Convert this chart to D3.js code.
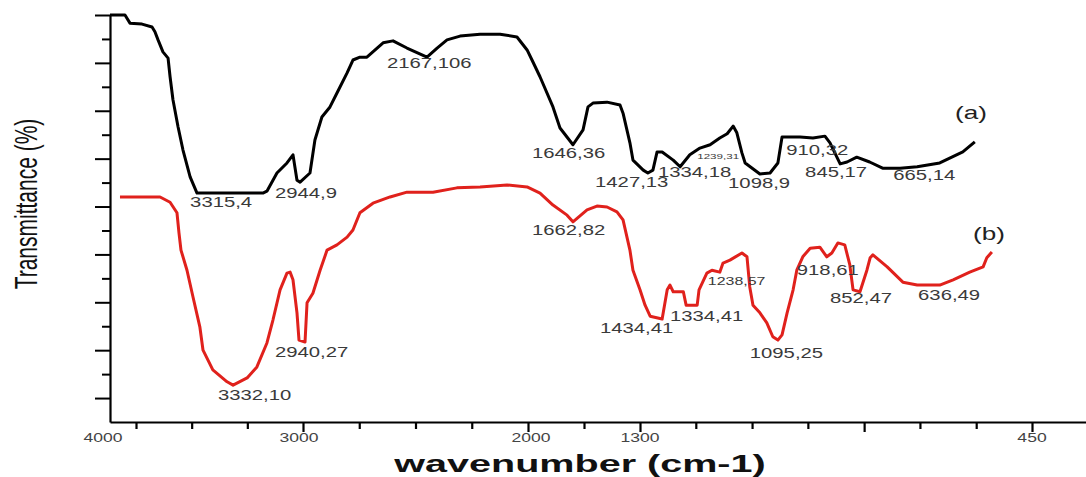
<!DOCTYPE html>
<html><head><meta charset="utf-8">
<script src="https://cdn.jsdelivr.net/npm/d3@7"></script>
<style>html,body{margin:0;padding:0;background:#fff;} svg{display:block;}</style>
</head><body><svg id="c" width="1086" height="477"></svg>
<script>
// ---- data ----
const xBreaks = [4000, 3750, 3000, 2000, 1300, 450, 330];
const xTickValues = [3750,3500,3250,3000,2750,2500,2250,2000,1650,1300,1179,1057,936,814,693,571,450];
const xMajorTicks = [3000, 2000, 1300, 814, 450];
const xTickLabels = ["4000","3000","2000","1300","450"];
const xTickLabelValues = [4000, 3000, 2000, 1300, 450];
const yTickValues = [5,10,15,20,25,30,35,40,45,50,55,60,65,70,75,80,85];

const waveA = [4000,3856,3808,3723,3678,3665,3651,3629,3606,3597,3584,3561,3539,3507,3476,3180,3162,3117,3072,3045,3027,3013,2969,2947,2916,2880,2849,2804,2778,2747,2716,2644,2600,2538,2449,2404,2360,2302,2213,2124,2049,2004,1975,1925,1844,1800,1719,1656,1625,1594,1506,1425,1406,1363,1344,1293,1283,1272,1263,1252,1228,1213,1192,1170,1148,1127,1111,1098,1090,1079,1072,1040,1018,1001,992,953,925,899,888,866,851,830,802,774,736,699,650,600,574];
const transA = [85,85,83.3,83.1,82.5,81.5,79.8,77.3,76.0,72.1,67.3,61.6,56.8,51.2,47.8,47.8,48.2,52.0,54.1,55.8,50.5,50.1,52.0,58.9,63.7,65.8,68.7,72.9,75.6,76.2,76.2,79.2,79.6,78.1,76.2,78.1,79.8,80.6,81.0,81.0,80.4,77.7,75.6,72.1,65.8,61.4,57.9,61.0,65.8,66.6,66.8,66.2,64.5,58.3,54.7,52.6,52.0,52.6,56.4,56.4,54.7,53.3,55.8,57.2,57.9,59.3,60.2,61.8,60.4,56.2,54.1,51.8,52.0,54.1,59.5,59.5,59.3,59.7,58.3,53.9,54.3,55.3,54.3,53.0,53.0,53.3,54.1,56.4,58.5];

const waveB = [3904,3779,3642,3597,3566,3557,3548,3521,3494,3463,3449,3405,3341,3314,3251,3207,3162,3135,3103,3072,3058,3045,3027,3018,2991,2982,2956,2924,2893,2849,2804,2778,2747,2689,2613,2538,2422,2316,2213,2093,2004,1925,1844,1756,1719,1631,1569,1506,1444,1406,1363,1344,1300,1289,1278,1252,1241,1235,1228,1206,1200,1176,1172,1155,1144,1127,1120,1105,1079,1068,1062,1055,1040,1025,1012,1001,992,981,968,960,947,931,910,895,884,871,856,845,838,823,808,801,795,764,730,699,650,621,585,556,548,537];
const transB = [47.0,47.0,47.0,45.9,43.7,39.5,35.9,31.7,26.1,19.8,15.0,10.9,8.4,7.7,9.2,11.5,16.5,21.3,27.6,31.1,31.3,29.7,22.8,17.1,16.7,24.9,26.9,31.7,35.9,37.0,38.6,40.1,43.7,45.7,47.0,48.0,48.0,48.9,49.1,49.5,49.1,47.8,45.3,43.2,41.8,44.3,45.1,44.9,43.9,42.2,35.9,31.7,27.6,24.4,22.1,21.5,27.6,28.6,27.2,27.2,24.4,24.4,27.6,31.1,31.7,31.3,33.2,33.8,35.3,34.5,28.2,24.4,22.8,20.7,17.8,17.1,18.2,22.8,27.6,31.7,34.5,36.3,36.5,34.5,35.3,37.4,37.0,32.8,27.6,27.2,31.7,34.3,34.9,32.4,29.2,28.6,28.6,29.7,31.3,32.4,34.3,35.5];

const peakTextA = ["3315,4","2944,9","2167,106","1646,36","1427,13","1334,18","1239,31","1098,9","910,32","845,17","665,14"];
const peakWaveA = [3507,3126,2627,1975,1581,1261,1176,1109,983,942,751];
const peakTransA = [44.9,46.8,73.9,55.1,49.1,51.2,54.9,48.9,55.8,51.2,50.5];
const peakSmallA = [false,false,false,false,false,false,true,false,false,false,false];

const peakTextB = ["3332,10","2940,27","1662,82","1434,41","1334,41","1238,57","1095,25","918,61","852,47","636,49"];
const peakWaveB = [3382,3126,1975,1550,1235,1153,1062,960,888,697];
const peakTransB = [4.6,13.6,39.1,18.6,21.1,28.6,13.4,30.7,24.9,25.5];
const peakSmallB = [false,false,false,false,false,true,false,false,false,false];

const seriesNames = ["(a)","(b)"];
const seriesNameWave = [617, 578];
const seriesNameTrans = [63.3, 38.0];

// ---- layout ----
const svg = d3.select("#c");
const xRange = [110, 136, 303, 528, 640, 1032, 1087];
const x = d3.scaleLinear().domain(xBreaks).range(xRange);
const y = d3.scaleLinear().domain([0, 85]).range([422, 15]);
const SX = 1.45;
const textCol = "#3a3a3a";
const font = "'Liberation Sans', Arial, sans-serif";

// curves
const line = d3.line().x(d => x(d[0])).y(d => y(d[1]));
svg.append("path").attr("d", line(waveA.map((w,i)=>[w,transA[i]])))
  .attr("fill","none").attr("stroke","#000").attr("stroke-width",3).attr("stroke-linejoin","round");
svg.append("path").attr("d", line(waveB.map((w,i)=>[w,transB[i]])))
  .attr("fill","none").attr("stroke","#e0211c").attr("stroke-width",3).attr("stroke-linejoin","round");

// axes
const gx = svg.append("g").attr("transform","translate(0,422)")
  .call(d3.axisBottom(x).tickValues(xTickValues).tickFormat("").tickSizeOuter(0));
gx.select(".domain").attr("stroke","#000").attr("stroke-width",2.2);
gx.selectAll(".tick line").attr("stroke","#000").attr("stroke-width",2.2)
  .attr("y2", d => xMajorTicks.includes(d) ? 10 : 7);

const gy = svg.append("g").attr("transform","translate(110,0)")
  .call(d3.axisLeft(y).tickValues(yTickValues).tickFormat("").tickSizeOuter(0));
gy.select(".domain").attr("stroke","#000").attr("stroke-width",2.2);
gy.selectAll(".tick line").attr("stroke","#000").attr("stroke-width",2)
  .attr("x2", d => (d % 10 === 5) ? -15 : -8);

function stretchedText(px, py, str, size, opts = {}) {
  const g = svg.append("g").attr("transform", `translate(${px},${py})`);
  g.append("text").attr("transform", `scale(${opts.sx || SX},1)`)
    .attr("text-anchor", opts.anchor || "start")
    .attr("font-family", font).attr("font-size", size)
    .attr("font-weight", opts.weight || "normal")
    .attr("fill", opts.fill || textCol).text(str);
}

// x tick labels
xTickLabels.forEach((t,i) => {
  const dx = i === 0 ? -7 : (i === 1 ? -4 : (i === 2 ? 3 : 0));
  stretchedText(x(xTickLabelValues[i]) + dx, 442, t, 13, {anchor:"middle", sx:1.35, fill:"#444"});
});

// peak labels
peakTextA.forEach((t,i) => stretchedText(x(peakWaveA[i]), y(peakTransA[i]), t, peakSmallA[i] ? 8 : 14));
peakTextB.forEach((t,i) => stretchedText(x(peakWaveB[i]), y(peakTransB[i]), t, peakSmallB[i] ? 11 : 14));
seriesNames.forEach((t,i) => stretchedText(x(seriesNameWave[i]), y(seriesNameTrans[i]), t, 18, {fill:"#222"}));

// axis titles
stretchedText(580, 472, "wavenumber (cm-1)", 23, {anchor:"middle", sx:1.72, weight:"bold", fill:"#111"});
svg.append("g").attr("transform","translate(37,204) rotate(-90)")
  .append("text").attr("transform","scale(1,1.45)").attr("text-anchor","middle")
  .attr("font-family", font).attr("font-size", 21).attr("fill","#111").text("Transmittance (%)");
</script></body></html>
